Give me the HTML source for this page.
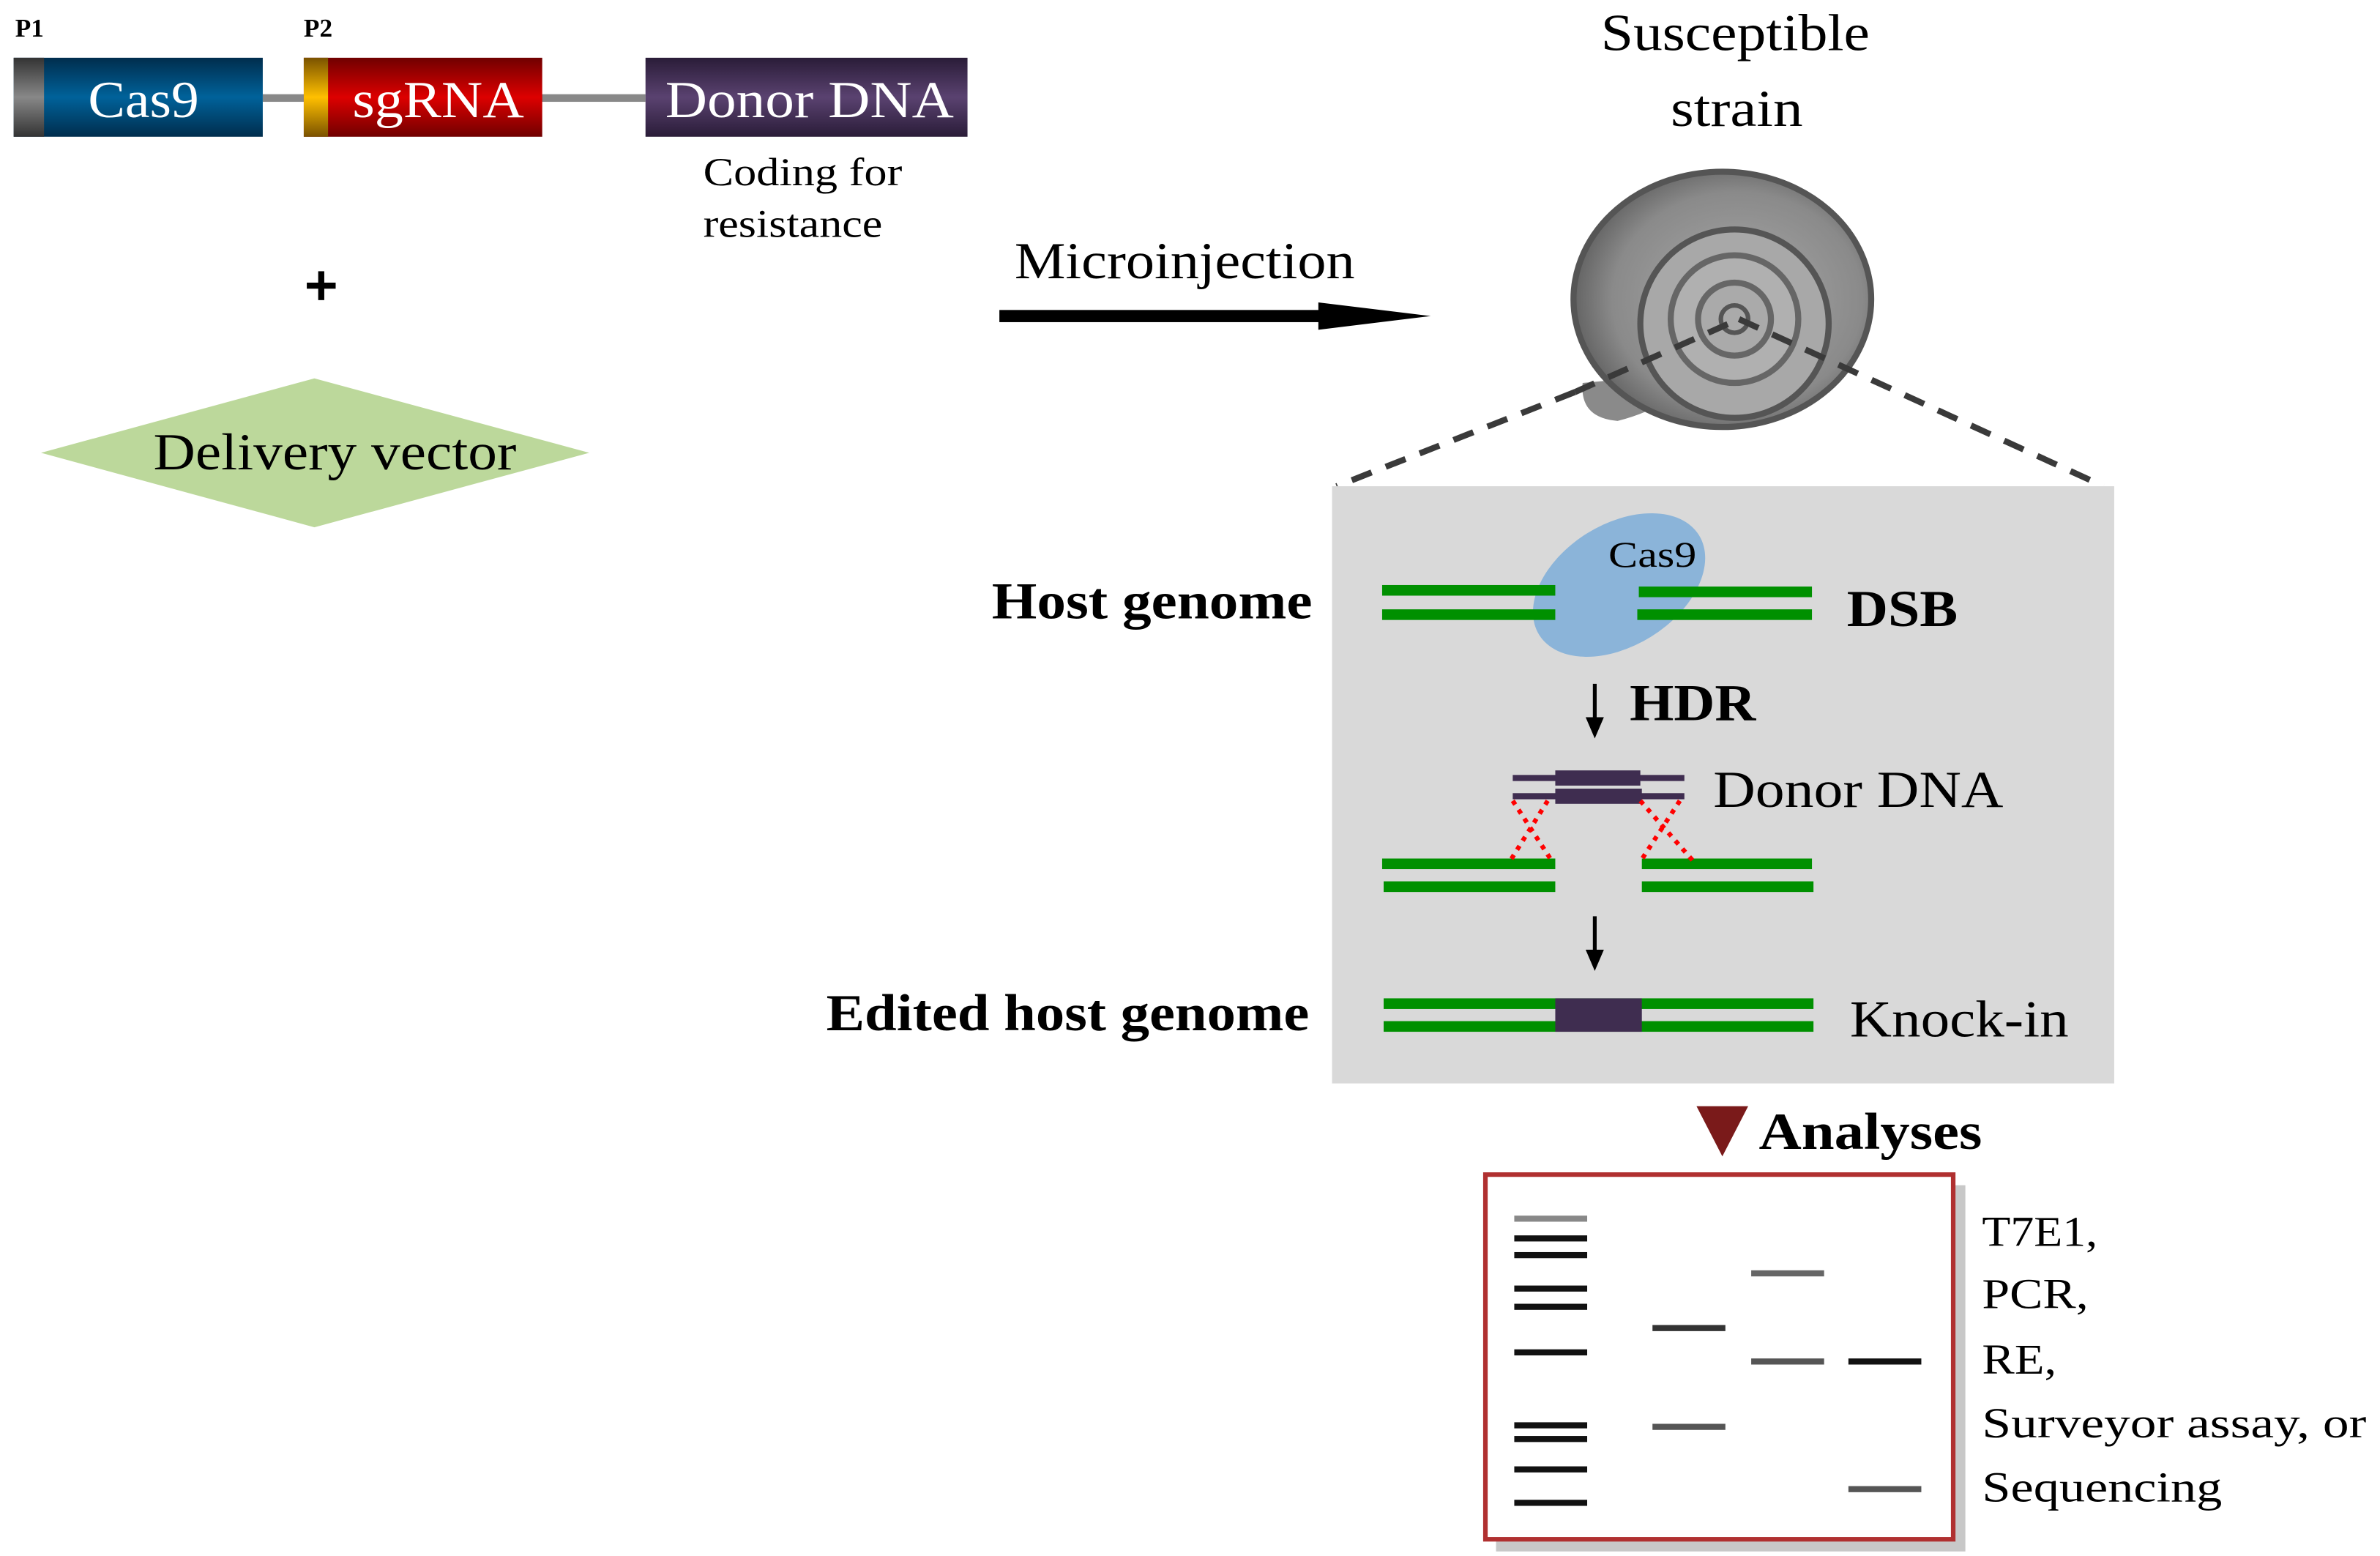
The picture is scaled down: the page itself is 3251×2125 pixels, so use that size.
<!DOCTYPE html>
<html><head><meta charset="utf-8"><style>
html,body{margin:0;padding:0;background:#fff;width:3251px;height:2125px;overflow:hidden}
svg{display:block}
text{font-family:"Liberation Serif",serif}
</style></head><body>
<svg width="3251" height="2125" viewBox="0 0 1567 1024" preserveAspectRatio="none" xmlns="http://www.w3.org/2000/svg">
<defs>
<linearGradient id="gb" x1="0" y1="0" x2="0" y2="1"><stop offset="0" stop-color="#002d4d"/><stop offset=".5" stop-color="#00629a"/><stop offset="1" stop-color="#002d4d"/></linearGradient>
<linearGradient id="gr" x1="0" y1="0" x2="0" y2="1"><stop offset="0" stop-color="#700000"/><stop offset=".5" stop-color="#dd0000"/><stop offset="1" stop-color="#700000"/></linearGradient>
<linearGradient id="gp" x1="0" y1="0" x2="0" y2="1"><stop offset="0" stop-color="#2a1c38"/><stop offset=".5" stop-color="#5a4270"/><stop offset="1" stop-color="#2a1c38"/></linearGradient>
<linearGradient id="gg" x1="0" y1="0" x2="0" y2="1"><stop offset="0" stop-color="#333"/><stop offset=".5" stop-color="#888"/><stop offset="1" stop-color="#333"/></linearGradient>
<linearGradient id="go" x1="0" y1="0" x2="0" y2="1"><stop offset="0" stop-color="#7a5200"/><stop offset=".5" stop-color="#ffc000"/><stop offset="1" stop-color="#7a5200"/></linearGradient>
<radialGradient id="sn" cx=".55" cy=".5" r=".6"><stop offset="0" stop-color="#aaa"/><stop offset=".7" stop-color="#8a8a8a"/><stop offset="1" stop-color="#555"/></radialGradient>
</defs>
<text x="10" y="24" font-size="17" font-weight="bold">P1</text>
<text x="200" y="24" font-size="17" font-weight="bold">P2</text>
<rect x="173" y="62" width="252" height="5" fill="#888"/>
<rect x="9" y="38" width="164" height="52" fill="url(#gb)"/>
<rect x="9" y="38" width="20" height="52" fill="url(#gg)"/>
<text x="58" y="77" font-size="34" fill="#fff" textLength="73" lengthAdjust="spacingAndGlyphs">Cas9</text>
<rect x="200" y="38" width="157" height="52" fill="url(#gr)"/>
<rect x="200" y="38" width="16" height="52" fill="url(#go)"/>
<text x="232" y="77" font-size="34" fill="#fff" textLength="113" lengthAdjust="spacingAndGlyphs">sgRNA</text>
<rect x="425" y="38" width="212" height="52" fill="url(#gp)"/>
<text x="438" y="77" font-size="34" fill="#fff" textLength="190" lengthAdjust="spacingAndGlyphs">Donor DNA</text>
<text x="463" y="122" font-size="26" textLength="131" lengthAdjust="spacingAndGlyphs">Coding for</text>
<text x="463" y="156" font-size="26" textLength="118" lengthAdjust="spacingAndGlyphs">resistance</text>
<rect x="202" y="186" width="19" height="4" fill="#000"/>
<rect x="209.5" y="178.5" width="4" height="19" fill="#000"/>
<polygon points="27,298 207,249 388,298 207,347" fill="#bcd89b"/>
<text x="101" y="309" font-size="34" textLength="239" lengthAdjust="spacingAndGlyphs">Delivery vector</text>
<text x="668" y="183" font-size="34" textLength="224" lengthAdjust="spacingAndGlyphs">Microinjection</text>
<rect x="658" y="204" width="215" height="8" fill="#000"/>
<polygon points="868,199 942,208 868,217" fill="#000"/>
<text x="1054" y="33" font-size="34" textLength="177" lengthAdjust="spacingAndGlyphs">Susceptible</text>
<text x="1100" y="83" font-size="34" textLength="87" lengthAdjust="spacingAndGlyphs">strain</text>
<!-- snail -->
<path d="M1042,252 Q1040,275 1065,277 Q1085,272 1100,262 L1085,248 Z" fill="#8a8a8a"/>
<ellipse cx="1134" cy="197" rx="98" ry="84" fill="url(#sn)" stroke="#555" stroke-width="4"/>
<circle cx="1142" cy="213" r="62" fill="#a8a8a8" stroke="#555" stroke-width="4"/>
<circle cx="1142" cy="210" r="42" fill="#b0b0b0" stroke="#666" stroke-width="4"/>
<circle cx="1142" cy="210" r="24" fill="#aaa" stroke="#666" stroke-width="4"/>
<circle cx="1142" cy="210" r="9" fill="#aaa" stroke="#555" stroke-width="3"/>
<line x1="1037" y1="258" x2="880" y2="320" stroke="#3a3a3a" stroke-width="4" stroke-dasharray="14,10"/>
<line x1="1037" y1="258" x2="1145" y2="210" stroke="#3a3a3a" stroke-width="4" stroke-dasharray="14,10"/>
<line x1="1145" y1="210" x2="1385" y2="320" stroke="#3a3a3a" stroke-width="4" stroke-dasharray="14,10"/>
<rect x="877" y="320" width="515" height="393" fill="#d9d9d9"/>
<text x="653" y="407" font-size="34" font-weight="bold" textLength="211" lengthAdjust="spacingAndGlyphs">Host genome</text>
<ellipse cx="1066" cy="385" rx="62" ry="40" fill="#8bb4d9" transform="rotate(-32 1066 385)"/>
<g fill="#009000">
<rect x="910" y="385" width="114" height="7"/><rect x="910" y="401" width="114" height="7"/>
<rect x="1079" y="386" width="114" height="7"/><rect x="1078" y="401" width="115" height="7"/>
<rect x="910" y="565" width="114" height="7"/><rect x="911" y="580" width="113" height="7"/>
<rect x="1081" y="565" width="112" height="7"/><rect x="1081" y="580" width="113" height="7"/>
<rect x="911" y="657" width="283" height="7"/><rect x="911" y="672" width="283" height="7"/>
</g>
<text x="1059" y="373" font-size="24" textLength="58" lengthAdjust="spacingAndGlyphs">Cas9</text>
<text x="1216" y="412" font-size="34" font-weight="bold" textLength="73" lengthAdjust="spacingAndGlyphs">DSB</text>
<line x1="1050" y1="450" x2="1050" y2="475" stroke="#000" stroke-width="2.5"/>
<polygon points="1044,472 1056,472 1050,486" fill="#000"/>
<text x="1073" y="474" font-size="34" font-weight="bold" textLength="83" lengthAdjust="spacingAndGlyphs">HDR</text>
<g fill="#3f2d50">
<rect x="996" y="510" width="113" height="4"/><rect x="1024" y="507" width="56" height="10"/>
<rect x="996" y="522" width="113" height="4"/><rect x="1024" y="519" width="57" height="10"/>
<rect x="1024" y="657" width="57" height="22"/>
</g>
<g stroke="#f00" stroke-width="3" stroke-dasharray="3,4">
<line x1="996" y1="527" x2="1022" y2="567"/><line x1="1019" y1="527" x2="994" y2="567"/>
<line x1="1080" y1="527" x2="1116" y2="568"/><line x1="1106" y1="527" x2="1080" y2="567"/>
</g>
<text x="1128" y="531" font-size="34" textLength="191" lengthAdjust="spacingAndGlyphs">Donor DNA</text>
<line x1="1050" y1="603" x2="1050" y2="628" stroke="#000" stroke-width="2.5"/>
<polygon points="1044,625 1056,625 1050,639" fill="#000"/>
<text x="544" y="678" font-size="34" font-weight="bold" textLength="318" lengthAdjust="spacingAndGlyphs">Edited host genome</text>
<text x="1218" y="682" font-size="34" textLength="144" lengthAdjust="spacingAndGlyphs">Knock-in</text>
<polygon points="1117,728 1151,728 1134,761" fill="#7a1a1a"/>
<text x="1158" y="756" font-size="34" font-weight="bold" textLength="147" lengthAdjust="spacingAndGlyphs">Analyses</text>
<rect x="985" y="780" width="309" height="241" fill="#c8c8c8"/>
<rect x="978" y="773" width="308" height="240" fill="#fff" stroke="#b03030" stroke-width="3"/>
<g fill="#111">
<rect x="997" y="800" width="48" height="4" fill="#888"/>
<rect x="997" y="813" width="48" height="4"/><rect x="997" y="824" width="48" height="4"/>
<rect x="997" y="846" width="48" height="4"/><rect x="997" y="858" width="48" height="4"/>
<rect x="997" y="888" width="48" height="4"/>
<rect x="997" y="936" width="48" height="4"/><rect x="997" y="945" width="48" height="4"/>
<rect x="997" y="965" width="48" height="4"/><rect x="997" y="987" width="48" height="4"/>
<rect x="1088" y="872" width="48" height="4" fill="#333"/><rect x="1088" y="937" width="48" height="4" fill="#555"/>
<rect x="1153" y="836" width="48" height="4" fill="#666"/><rect x="1153" y="894" width="48" height="4" fill="#555"/>
<rect x="1217" y="894" width="48" height="4"/><rect x="1217" y="978" width="48" height="4" fill="#555"/>
</g>
<g font-size="28">
<text x="1305" y="820" textLength="76" lengthAdjust="spacingAndGlyphs">T7E1,</text>
<text x="1305" y="861" textLength="70" lengthAdjust="spacingAndGlyphs">PCR,</text>
<text x="1305" y="904" textLength="49" lengthAdjust="spacingAndGlyphs">RE,</text>
<text x="1305" y="946" textLength="253" lengthAdjust="spacingAndGlyphs">Surveyor assay, or</text>
<text x="1305" y="988" textLength="158" lengthAdjust="spacingAndGlyphs">Sequencing</text>
</g>
</svg>
</body></html>
